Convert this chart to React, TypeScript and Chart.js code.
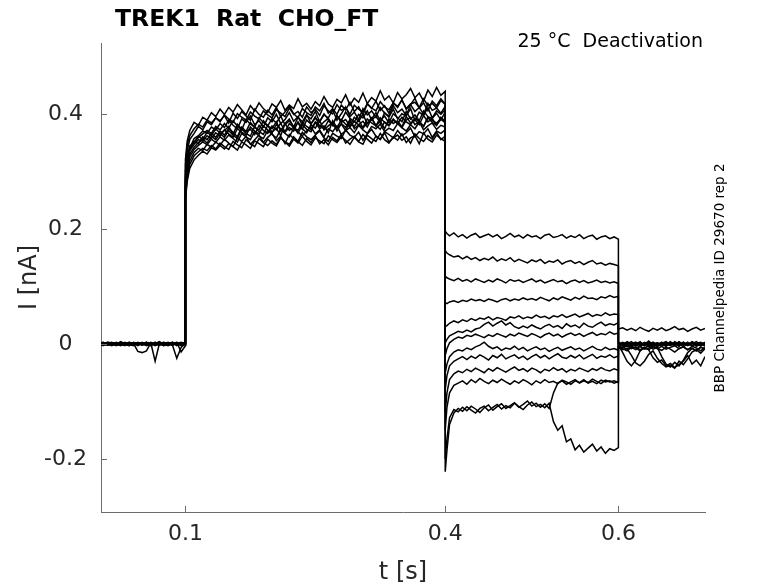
import React, { useEffect, useRef } from 'react';
import { Chart, registerables } from 'chart.js';

Chart.register(...registerables);

// time bases (s) for the four protocol phases
const PRE_T = [0.0025, 0.005, 0.01, 0.015, 0.02, 0.025, 0.03, 0.035, 0.04, 0.045, 0.05, 0.055, 0.06, 0.065, 0.07, 0.075, 0.08, 0.085, 0.09, 0.095, 0.1];
const STEP_T = [
  0.1, 0.102, 0.105, 0.11, 0.115, 0.12, 0.125, 0.13, 0.135, 0.14,
  0.145, 0.15, 0.155, 0.16, 0.165, 0.17, 0.175, 0.18, 0.185, 0.19,
  0.195, 0.2, 0.205, 0.21, 0.215, 0.22, 0.225, 0.23, 0.235, 0.24,
  0.245, 0.25, 0.255, 0.26, 0.265, 0.27, 0.275, 0.28, 0.285, 0.29,
  0.295, 0.3, 0.305, 0.31, 0.315, 0.32, 0.325, 0.33, 0.335, 0.34,
  0.345, 0.35, 0.355, 0.36, 0.365, 0.37, 0.375, 0.38, 0.385, 0.39,
  0.395, 0.4,
];
const TAIL_T = [
  0.4, 0.402, 0.405, 0.41, 0.415, 0.42, 0.425, 0.43, 0.435, 0.44,
  0.445, 0.45, 0.455, 0.46, 0.465, 0.47, 0.475, 0.48, 0.485, 0.49,
  0.495, 0.5, 0.505, 0.51, 0.515, 0.52, 0.525, 0.53, 0.535, 0.54,
  0.545, 0.55, 0.555, 0.56, 0.565, 0.57, 0.575, 0.58, 0.585, 0.59,
  0.595, 0.6,
];
const POST_T = [0.6, 0.605, 0.61, 0.615, 0.62, 0.625, 0.63, 0.635, 0.64, 0.645, 0.65, 0.655, 0.66, 0.665, 0.67, 0.675, 0.68, 0.685, 0.69, 0.695, 0.7];

// current per sweep (pA)
const PRE_PA = [
  [2, -1, 3, 0, -2, 4, 1, -3, 2, 0, -1, 3, -2, 1, 4, -1, 0, 2, -3, 1, 2],
  [-1, 2, 0, -3, 1, -2, 3, 0, -1, 2, -2, 0, 3, -1, 1, -3, 2, 0, 1, -2, 0],
  [0, -3, 1, 2, -1, 0, -2, 3, 1, -13, -15, -12, 2, 0, -1, 3, -2, 1, 0, 2, -1],
  [3, 0, -2, 1, 2, -3, 0, 1, -2, 3, 0, -1, 2, -30, 1, -2, 0, 3, -1, 0, 2],
  [-2, 1, 2, -1, 0, 3, -2, 0, 2, -1, 1, -3, 0, 2, -1, 1, 3, -2, -25, -6, 1],
  [1, -2, 0, 3, -1, 2, 0, -3, 1, 0, 2, -1, -3, 1, 0, 2, -1, 0, 3, -14, -3],
  [0, 2, -1, -2, 3, 0, 1, -1, -3, 2, 0, 1, -1, 3, -2, 0, 1, -3, 2, 0, -1],
  [-3, 0, 2, 1, -2, 1, -1, 2, 0, -2, 3, 0, 1, -2, 2, -1, -3, 1, 0, 2, 1],
  [1, 3, -2, 0, 1, -1, 2, -2, 3, 0, -1, 2, 0, -1, 3, 1, -2, 0, -1, 1, -2],
  [2, -1, 1, -2, 0, 2, -3, 1, 0, 1, -2, 3, -1, 0, -2, 2, 0, -1, 2, -3, 0],
  [-1, 0, 3, 2, -1, -2, 0, 3, -1, 2, 1, -2, 2, 0, 1, -3, 1, 2, 0, 1, 3],
  [0, 1, -1, 0, 2, 1, -2, 0, 2, -3, 1, 0, -2, 1, 0, 2, -1, 3, -2, 0, -1],
  [1, -2, 0, 1, -3, 0, 2, -1, -2, 1, -1, 2, 1, -3, 0, 1, 2, -1, 1, 3, 0],
];

const STEP_PA = [
  [290, 335, 355, 366, 378, 372, 386, 381, 393, 388,
    397, 384, 401, 392, 404, 396, 389, 408, 399, 394,
    406, 398, 411, 395, 403, 414, 400, 393, 409, 402,
    397, 412, 405, 418, 401, 409, 399, 415, 407, 420,
    404, 412, 398, 417, 409, 422, 406, 414, 401, 419,
    411, 424, 408, 416, 427, 410, 419, 405, 422, 414,
    426, 417],
  [270, 318, 340, 357, 362, 370, 366, 377, 372, 383,
    376, 389, 380, 374, 391, 385, 396, 381, 388, 377,
    393, 386, 399, 383, 390, 402, 387, 395, 380, 397,
    391, 404, 386, 398, 393, 407, 389, 400, 412, 395,
    403, 390, 409, 398, 405, 394, 411, 401, 396, 414,
    402, 408, 397, 416, 404, 411, 399, 418, 406, 410,
    401, 413],
  [300, 326, 344, 350, 361, 355, 368, 362, 374, 366,
    371, 378, 364, 382, 373, 369, 385, 376, 372, 388,
    379, 374, 386, 370, 383, 391, 377, 384, 373, 389,
    382, 395, 378, 386, 392, 380, 397, 385, 390, 379,
    394, 387, 399, 383, 391, 402, 388, 396, 384, 400,
    393, 386, 404, 391, 398, 388, 405, 395, 392, 401,
    389, 403],
  [262, 305, 330, 342, 350, 356, 349, 361, 355, 366,
    359, 371, 363, 357, 374, 366, 361, 378, 369, 364,
    380, 368, 375, 362, 383, 371, 377, 366, 381, 373,
    369, 385, 374, 379, 367, 388, 376, 382, 371, 386,
    378, 390, 375, 384, 393, 379, 387, 374, 391, 383,
    388, 377, 395, 384, 390, 381, 397, 386, 392, 380,
    394, 387],
  [320, 352, 371, 385, 380, 394, 389, 402, 395, 408,
    399, 411, 403, 416, 407, 398, 414, 405, 419, 409,
    402, 417, 411, 423, 406, 415, 409, 426, 412, 418,
    408, 421, 414, 430, 417, 411, 425, 419, 433, 415,
    427, 420, 436, 418, 428, 422, 440, 424, 431, 419,
    437, 426, 433, 444, 428, 436, 422, 441, 430, 446,
    432, 439],
  [255, 290, 318, 333, 340, 336, 347, 342, 351, 345,
    356, 349, 343, 358, 352, 361, 347, 355, 363, 350,
    359, 366, 353, 361, 348, 364, 357, 352, 368, 360,
    355, 363, 370, 358, 352, 366, 361, 357, 372, 363,
    359, 368, 354, 365, 373, 361, 356, 369, 364, 358,
    371, 362, 367, 375, 360, 369, 365, 374, 359, 370,
    366, 372],
  [280, 322, 340, 352, 348, 360, 355, 366, 359, 370,
    363, 375, 368, 360, 377, 369, 373, 364, 380, 371,
    366, 379, 372, 384, 368, 376, 370, 386, 374, 367,
    381, 375, 388, 372, 379, 385, 370, 383, 376, 390,
    374, 381, 387, 377, 392, 380, 373, 386, 379, 391,
    383, 376, 389, 394, 381, 387, 378, 393, 385, 380,
    391, 384],
  [250, 282, 305, 320, 328, 335, 330, 341, 337, 345,
    339, 348, 343, 337, 351, 346, 340, 353, 348, 343,
    356, 349, 344, 358, 351, 347, 360, 352, 345, 357,
    350, 362, 348, 355, 346, 359, 353, 364, 349, 356,
    361, 351, 347, 363, 357, 352, 366, 355, 349, 360,
    354, 365, 350, 358, 362, 348, 367, 356, 351, 363,
    357, 352],
  [275, 315, 338, 351, 359, 365, 371, 366, 378, 372,
    383, 375, 388, 379, 372, 390, 382, 377, 393, 385,
    379, 391, 384, 396, 381, 388, 377, 394, 386, 399,
    383, 392, 387, 400, 390, 381, 397, 388, 403, 392,
    386, 399, 393, 405, 389, 396, 384, 402, 394, 408,
    391, 400, 396, 409, 388, 403, 397, 411, 393, 405,
    399, 407],
  [268, 300, 325, 338, 345, 351, 346, 356, 350, 360,
    354, 363, 357, 351, 366, 360, 355, 369, 361, 357,
    371, 364, 358, 373, 366, 360, 375, 368, 362, 370,
    377, 365, 372, 360, 374, 369, 379, 364, 371, 376,
    367, 380, 372, 366, 378, 374, 382, 369, 375, 371,
    383, 376, 370, 381, 374, 386, 372, 379, 384, 373,
    380, 377],
  [310, 345, 362, 374, 382, 377, 389, 384, 393, 386,
    398, 391, 385, 400, 394, 389, 403, 396, 391, 405,
    398, 393, 407, 401, 395, 410, 399, 404, 394, 412,
    402, 408, 397, 414, 405, 400, 416, 406, 411, 399,
    415, 408, 403, 418, 410, 405, 421, 412, 407, 419,
    413, 424, 409, 417, 420, 411, 426, 414, 418, 410,
    423, 416],
  [258, 288, 312, 327, 334, 340, 336, 345, 339, 349,
    343, 338, 352, 346, 341, 355, 348, 343, 357, 350,
    345, 353, 347, 359, 351, 344, 356, 349, 361, 352,
    346, 358, 353, 348, 362, 355, 350, 360, 354, 347,
    359, 352, 364, 356, 349, 361, 355, 367, 351, 358,
    363, 354, 360, 349, 365, 357, 352, 362, 356, 368,
    355, 361],
  [285, 320, 336, 347, 355, 352, 362, 357, 367, 361,
    372, 365, 359, 374, 368, 363, 377, 370, 365, 379,
    372, 367, 381, 374, 369, 383, 376, 371, 385, 378,
    373, 386, 379, 374, 388, 380, 375, 390, 382, 377,
    387, 381, 376, 391, 384, 379, 393, 385, 380, 389,
    383, 394, 386, 381, 392, 387, 378, 395, 388, 384,
    391, 386],
];

const TAIL_PA = [
  [196, 192, 188, 193, 186, 190, 184, 189, 192, 185,
    188, 191, 186, 190, 183, 187, 192, 186, 189, 184,
    190, 186, 188, 183, 189, 191, 185, 187, 190, 184,
    188, 185, 190, 183, 187, 189, 182, 186, 188, 183,
    186, 182],
  [162, 158, 155, 151, 153, 148, 152, 147, 150, 145,
    149, 146, 151, 144, 148, 145, 150, 143, 147, 144,
    141, 146, 143, 147, 140, 144, 142, 146, 139, 143,
    145, 140, 143, 138, 142, 145, 139, 141, 137, 140,
    138, 136],
  [118, 115, 113, 110, 114, 109, 112, 108, 113, 110,
    107, 111, 108, 113, 110, 106, 112, 109, 111, 107,
    110, 113, 108, 111, 106, 109, 112, 108, 110, 105,
    109, 111, 107, 110, 106, 108, 111, 107, 109, 106,
    108, 105],
  [72, 70, 73, 75, 72, 76, 74, 78, 75, 77,
    74, 78, 76, 73, 77, 79, 75, 78, 76, 80,
    77, 79, 76, 81, 78, 75, 80, 77, 82, 79,
    76, 81, 78, 83, 79, 80, 77, 82, 80, 84,
    81, 83],
  [30, 32, 36, 40, 37, 42, 39, 44, 41, 45,
    43, 47, 42, 46, 44, 41, 47, 45, 49, 44,
    47, 45, 50, 46, 48, 44, 49, 47, 51, 46,
    49, 52, 47, 50, 53, 48, 51, 49, 54, 50,
    52, 51],
  [2, 8, 14, 18, 22, 20, 24, 21, 26, 28,
    34, 38, 31, 36, 40, 33, 37, 30, 27, 31,
    28, 33, 29, 26, 31, 34, 29, 32, 27, 35,
    30, 33, 28, 36, 31, 29, 34, 38, 32, 35,
    33, 37],
  [-20, -8, 2, 8, 12, 10, 15, 13, 17, 14,
    11, 16, 13, 18, 15, 12, 17, 14, 19, 16,
    13, 18, 15, 11, 16, 19, 14, 17, 12, 16,
    19, 15, 18, 13, 17, 20, 15, 18, 16, 21,
    17, 19],
  [-50, -35, -22, -14, -10, -12, -7, -10, -5, -2,
    3, -4, -8, -5, -11, -7, -9, -4, -10, -6,
    -12, -8, -5, -10, -7, -13, -9, -6, -11, -8,
    -5, -10, -7, -12, -8, -4, -9, -11, -6, -10,
    -8, -11],
  [-80, -55, -38, -30, -26, -22, -27, -21, -25, -19,
    -23, -28, -20, -24, -18, -26, -22, -19, -25, -21,
    -27, -22, -18, -24, -20, -26, -21, -17, -23, -25,
    -20, -24, -19, -26, -22, -18, -25, -21, -23, -19,
    -24, -21],
  [-120, -85, -62, -52, -47, -50, -44, -48, -42, -46,
    -50, -43, -47, -41, -45, -49, -44, -40, -46, -43,
    -48, -42, -45, -50, -44, -47, -41, -46, -43, -49,
    -44, -47, -42, -45, -48, -43, -46, -41, -45, -47,
    -43, -46],
  [-150, -110, -85, -72, -68, -64, -70, -62, -67, -60,
    -65, -69, -63, -67, -61, -66, -70, -64, -68, -62,
    -66, -71, -64, -68, -62, -67, -65, -69, -63, -66,
    -70, -64, -67, -62, -68, -65, -69, -63, -66, -64,
    -68, -65],
  [-200, -165, -128, -114, -118, -110, -116, -108, -113, -119,
    -111, -106, -115, -109, -104, -112, -107, -102, -110, -105,
    -99, -108, -103, -110, -104, -112, -85, -68, -64, -70,
    -66, -62, -68, -64, -67, -61, -65, -69, -63, -66,
    -64, -67],
  [-222, -185, -140, -120, -112, -117, -109, -115, -120, -112,
    -108, -116, -110, -105, -113, -107, -111, -103, -109, -114,
    -106, -101, -109, -105, -111, -103, -135, -150, -142, -170,
    -165, -184, -176, -188, -181, -174, -186, -179, -190, -182,
    -185, -180],
];

const POST_PA = [
  [3, -2, 4, 0, -3, 2, -1, 5, -2, 1, -4, 3, 0, -2, 4, -1, 2, -3, 1, 3, -1],
  [26, 28, 24, 27, 23, 29, 25, 22, 27, 24, 28, 23, 26, 30, 25, 27, 22, 26, 29, 24, 27],
  [-2, 2, -4, 1, 3, -1, -3, 2, 0, -5, 1, 4, -2, 0, -3, 2, -1, 3, -4, 0, 2],
  [1, -3, 0, 4, -2, -5, 1, -1, 3, -2, 0, -4, 2, 1, -3, 3, -2, 0, 4, -1, -3],
  [-4, 0, 2, -2, 1, -3, 3, 0, -4, 2, -1, 1, -3, 4, 0, -2, 3, -4, 1, -1, 0],
  [0, 3, -1, -4, 2, 0, -2, 3, 1, -3, 2, -1, 4, -2, 0, 3, -3, 1, -2, 2, -4],
  [2, -1, -5, 0, 3, -2, 1, -4, 0, 2, -3, 0, 1, -2, 3, -5, 0, 2, -1, -3, 1],
  [-3, 1, 2, -3, -1, 4, -2, 0, 2, -1, 3, -3, -1, 2, -4, 1, -2, 4, 0, -2, 3],
  [-5, -8, -12, -6, -10, -4, -9, -7, -3, -8, -11, -6, -9, -14, -8, -5, -10, -7, -12, -6, -9],
  [-2, -15, -30, -38, -28, -12, -6, -10, -5, -8, -4, -9, -6, -3, -8, -5, -10, -4, -7, -12, -6],
  [-4, -6, -2, -8, -5, -10, -7, -3, -9, -6, -22, -35, -40, -32, -38, -28, -15, -8, -12, -5, -9],
  [-6, -10, -8, -20, -33, -38, -30, -18, -12, -25, -34, -40, -37, -42, -30, -36, -26, -14, -10, -16, -8],
  [-8, -5, -9, -4, -7, -12, -6, -10, -24, -32, -28, -38, -34, -41, -36, -30, -20, -35, -28, -38, -22],
];

const X_TICKS = [0.1, 0.4, 0.6];
const Y_TICKS = [-0.2, 0, 0.2, 0.4];
const X_RANGE = [0.0025, 0.7];
const Y_RANGE = [-0.292, 0.523];

const TITLE = 'TREK1  Rat  CHO_FT';
const CONDITION = '25 °C  Deactivation';
const SOURCE = 'BBP Channelpedia ID 29670 rep 2';

const FONT = "'DejaVu Sans', sans-serif";
const INK = '#262626';
const AXIS = '#6b6b6b';

const toPoints = (t: number[], pa: number[]) => t.map((x, i) => ({ x, y: pa[i] / 1000 }));

const decor = {
  id: 'decor',
  afterDraw(chart: any) {
    const { ctx, chartArea, scales } = chart;
    ctx.save();
    // inward tick marks
    ctx.strokeStyle = AXIS;
    ctx.lineWidth = 1;
    ctx.beginPath();
    X_TICKS.forEach((v) => {
      const px = Math.round(scales.x.getPixelForValue(v)) + 0.5;
      ctx.moveTo(px, chartArea.bottom);
      ctx.lineTo(px, chartArea.bottom - 6);
    });
    Y_TICKS.forEach((v) => {
      const py = Math.round(scales.y.getPixelForValue(v)) + 0.5;
      ctx.moveTo(chartArea.left, py);
      ctx.lineTo(chartArea.left + 6, py);
    });
    ctx.stroke();

    // title and notes
    ctx.fillStyle = '#000';
    ctx.font = `bold 23.5px ${FONT}`;
    ctx.textAlign = 'left';
    ctx.textBaseline = 'alphabetic';
    ctx.fillText(TITLE, 115, 26);

    ctx.font = `19px ${FONT}`;
    ctx.textAlign = 'right';
    ctx.fillText(CONDITION, 703, 47);

    ctx.translate(720, 278);
    ctx.rotate(-Math.PI / 2);
    ctx.font = `13.5px ${FONT}`;
    ctx.textAlign = 'center';
    ctx.textBaseline = 'middle';
    ctx.fillText(SOURCE, 0, 0);
    ctx.restore();
  },
};

const App: React.FC = () => {
  const canvasRef = useRef<HTMLCanvasElement | null>(null);

  useEffect(() => {
    if (!canvasRef.current) return;
    const ctx = canvasRef.current.getContext('2d');
    if (!ctx) return;

    const datasets = PRE_PA.map((_, k) => ({
      data: [
        ...toPoints(PRE_T, PRE_PA[k]),
        ...toPoints(STEP_T, STEP_PA[k]),
        ...toPoints(TAIL_T, TAIL_PA[k]),
        ...toPoints(POST_T, POST_PA[k]),
      ],
      borderColor: '#000',
      borderWidth: 1.5,
      pointRadius: 0,
      fill: false,
      tension: 0,
    }));

    const chart = new Chart(ctx, {
      type: 'line',
      data: { datasets },
      options: {
        animation: false,
        responsive: false,
        layout: { padding: { left: 0, top: 43, right: 73, bottom: 0 } },
        plugins: {
          legend: { display: false },
          tooltip: { enabled: false },
        },
        scales: {
          x: {
            type: 'linear',
            min: X_RANGE[0],
            max: X_RANGE[1],
            afterBuildTicks: (s: any) => {
              s.ticks = X_TICKS.map((value) => ({ value }));
            },
            afterFit: (s: any) => {
              s.height = 71;
            },
            grid: { display: false, drawTicks: false },
            border: { display: true, color: AXIS, width: 1 },
            ticks: {
              autoSkip: false,
              maxRotation: 0,
              padding: 9,
              color: INK,
              font: { family: FONT, size: 22 },
              callback: (v: any) => String(Number(v)),
            },
            title: {
              display: true,
              text: 't [s]',
              color: INK,
              font: { family: FONT, size: 24, lineHeight: 1 },
              padding: { top: 0, bottom: -2 },
            },
          },
          y: {
            type: 'linear',
            min: Y_RANGE[0],
            max: Y_RANGE[1],
            afterBuildTicks: (s: any) => {
              s.ticks = Y_TICKS.map((value) => ({ value }));
            },
            afterFit: (s: any) => {
              s.width = 101;
            },
            grid: { display: false, drawTicks: false },
            border: { display: true, color: AXIS, width: 1 },
            ticks: {
              crossAlign: 'center',
              padding: 14,
              color: INK,
              font: { family: FONT, size: 22 },
              callback: (v: any) => String(Number(v)),
            },
            title: {
              display: true,
              text: 'I [nA]',
              color: INK,
              font: { family: FONT, size: 24, lineHeight: 1 },
              padding: { top: 18, bottom: 0 },
            },
          },
        },
      },
      plugins: [decor],
    } as any);

    return () => {
      chart.destroy();
    };
  }, []);

  return (
    <div style={{ position: 'fixed', left: 0, top: 0, width: 778, height: 583, background: '#fff' }}>
      <canvas ref={canvasRef} width={778} height={583} />
    </div>
  );
};

export default App;
